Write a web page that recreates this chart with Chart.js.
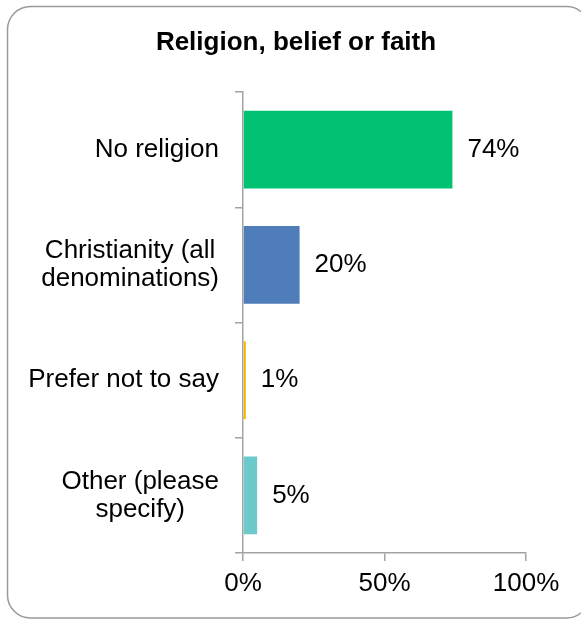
<!DOCTYPE html>
<html>
<head>
<meta charset="utf-8">
<script src="https://cdn.jsdelivr.net/npm/chart.js@4"></script>
<style>
  html, body { margin: 0; padding: 0; background: #fff; overflow: hidden; }
  canvas { display: block; }
</style>
</head>
<body>
<canvas id="chartReligion" width="581" height="619"></canvas>
<script>
const categories = [['No religion'], ['Christianity (all', 'denominations)'], ['Prefer not to say'], ['Other (please', 'specify)']];
const shares = [74, 20, 1, 5];
const barColors = ['#00C272', '#4F7DBA', '#F2B705', '#6CC9CC'];
const xTicks = [0, 50, 100];

const FONT = 'Arial, "Liberation Sans", sans-serif';
const SIZE = 26;
const AXIS = '#a3a3a3';

// rounded frame round the whole chart
const frame = {
  id: 'frame',
  beforeDraw(chart) {
    const ctx = chart.ctx;
    ctx.save();
    ctx.strokeStyle = '#9a9a9a';
    ctx.lineWidth = 1.5;
    ctx.beginPath();
    ctx.roundRect(7.5, 6.5, 582, 611.5, 23);
    ctx.stroke();
    ctx.restore();
  }
};

// category names, right-aligned as a block, lines centred inside it
const catLabels = {
  id: 'catLabels',
  afterDraw(chart) {
    const ctx = chart.ctx;
    const yScale = chart.scales.y;
    const right = 219, lh = 28;
    ctx.save();
    ctx.font = SIZE + 'px ' + FONT;
    ctx.fillStyle = '#000';
    ctx.textBaseline = 'middle';
    ctx.textAlign = 'center';
    categories.forEach((lines, i) => {
      const widest = Math.max(...lines.map(l => ctx.measureText(l).width));
      const cx = right - widest / 2;
      const cy = yScale.getPixelForValue(i);
      const y0 = cy - (lines.length - 1) * lh / 2;
      lines.forEach((l, j) => ctx.fillText(l, cx, y0 + j * lh));
    });
    ctx.restore();
  }
};

// percentage next to the end of each bar
const valueLabels = {
  id: 'valueLabels',
  afterDatasetsDraw(chart) {
    const ctx = chart.ctx;
    const meta = chart.getDatasetMeta(0);
    ctx.save();
    ctx.font = SIZE + 'px ' + FONT;
    ctx.fillStyle = '#000';
    ctx.textAlign = 'left';
    ctx.textBaseline = 'middle';
    meta.data.forEach((bar, i) => {
      ctx.fillText(shares[i] + '%', bar.x + 15, bar.y);
    });
    ctx.restore();
  }
};

new Chart(document.getElementById('chartReligion'), {
  type: 'bar',
  data: {
    labels: categories,
    datasets: [{
      data: shares,
      backgroundColor: barColors,
      borderWidth: 0,
      barPercentage: 0.675,
      categoryPercentage: 1
    }]
  },
  options: {
    indexAxis: 'y',
    responsive: false,
    animation: false,
    devicePixelRatio: 1,
    layout: { padding: { left: 66, right: 55, top: 0, bottom: 0 } },
    plugins: {
      legend: { display: false },
      tooltip: { enabled: false },
      title: {
        display: true,
        text: 'Religion, belief or faith',
        color: '#000',
        font: { family: FONT, size: SIZE, weight: 'bold' },
        padding: { top: 27.4, bottom: 33.4 }
      }
    },
    scales: {
      x: {
        min: 0,
        max: 100,
        afterBuildTicks(scale) { scale.ticks = xTicks.map(v => ({ value: v })); },
        afterFit(scale) { scale.height = 66; },
        grid: { drawOnChartArea: false, drawTicks: true, tickLength: 8, color: AXIS, lineWidth: 1.5 },
        border: { color: AXIS, width: 1.5 },
        ticks: {
          color: '#000',
          font: { family: FONT, size: SIZE },
          padding: 7,
          maxRotation: 0,
          callback: v => v + '%'
        }
      },
      y: {
        afterFit(scale) { scale.width = 243 - 66; },
        grid: { drawOnChartArea: false, drawTicks: true, tickLength: 8, offset: true, color: AXIS, lineWidth: 1.5 },
        border: { color: AXIS, width: 1.5 },
        ticks: { display: false }
      }
    }
  },
  plugins: [frame, catLabels, valueLabels]
});
</script>
</body>
</html>
